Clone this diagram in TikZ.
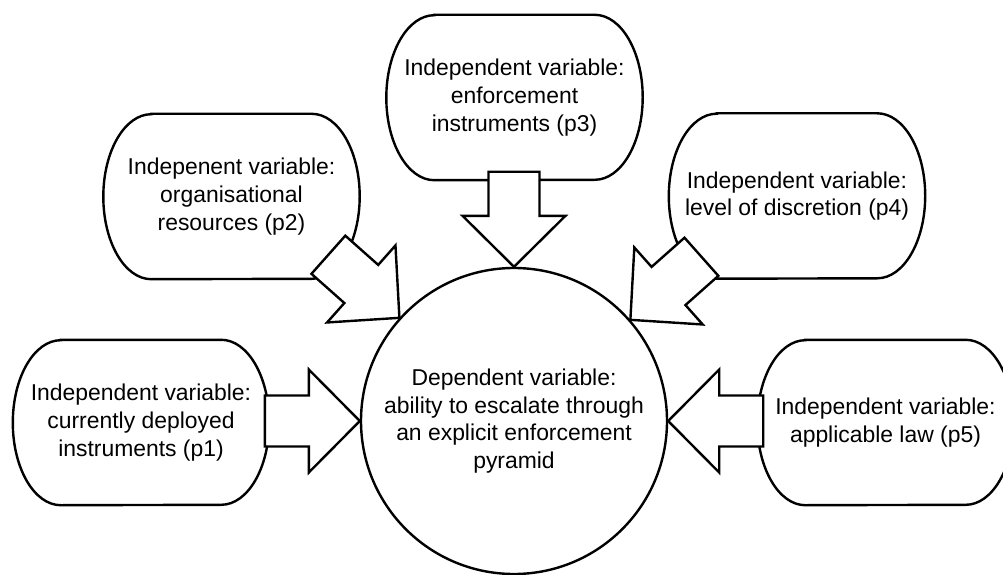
\documentclass[tikz,border=0pt]{standalone}
\usepackage{fontspec}
\setmainfont{Liberation Sans}
\usepackage{tikz}

\begin{document}
\begin{tikzpicture}[x=1pt,y=1pt,
	every node/.style={font=\fontsize{22.9}{27.7}\selectfont},
	varbox/.style={minimum width=256pt,minimum height=165pt,align=center,inner sep=0pt},
	pill/.style={line width=2.4pt},
	depcircle/.style={circle,draw,line width=2.4pt,minimum size=306pt,align=center,inner sep=0pt},
	blockarr/.style={draw,fill=white,line width=2.4pt,line join=miter}]
	\newcommand\pillrx{48}
	\newcommand\pillry{82.5}
	\newcommand\blockarrow[1]{\draw[blockarr,shift={(dep.#1)},rotate=#1] (0,0) -- (51,51.5) -- (51,25.5) -- (95,25.5) -- (95,-25.5) -- (51,-25.5) -- (51,-51.5) -- cycle;}

	\useasboundingbox (0,0) rectangle (1003,574);

	\node[depcircle] (dep) at (514,153) {Dependent variable:\\ability to escalate through\\an explicit enforcement\\pyramid};
	\node[varbox] (p1) at (141,151.5) {Independent variable:\\currently deployed\\instruments (p1)};
	\node[varbox] (p2) at (231.5,377.5) {Indepenent variable:\\organisational\\resources (p2)};
	\node[varbox] (p3) at (514.5,476.5) {Independent variable:\\enforcement\\instruments (p3)};
	\node[varbox] (p4) at (797,378) {Independent variable:\\level of discretion (p4)};
	\node[varbox] (p5) at (885.5,151.5) {Independent variable:\\applicable law (p5)};

	% rounded outlines
	\foreach \b in {p1,p2,p3,p4,p5}
		\draw[pill] ([xshift=\pillrx]\b.north west) -- ([xshift=-\pillrx]\b.north east)
			arc[start angle=90,end angle=-90,x radius=\pillrx,y radius=\pillry]
			-- ([xshift=\pillrx]\b.south west)
			arc[start angle=270,end angle=90,x radius=\pillrx,y radius=\pillry] -- cycle;

	% block arrows into the circle
	\blockarrow{180}
	\blockarrow{138.4}
	\blockarrow{90}
	\blockarrow{41.6}
	\blockarrow{0}
\end{tikzpicture}
\end{document}
